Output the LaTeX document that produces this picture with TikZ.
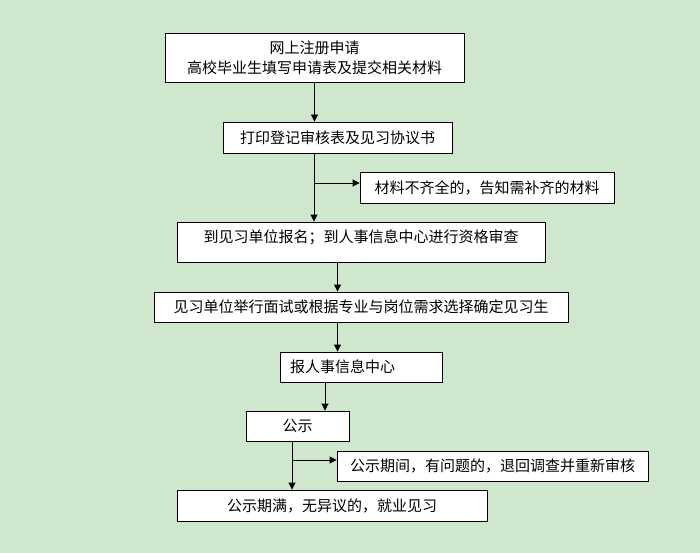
\documentclass[tikz,border=0pt]{standalone}
\usepackage{fontspec}
\setmainfont{Noto Sans CJK SC}
\usetikzlibrary{arrows.meta}
\definecolor{bgc}{RGB}{207,231,204}
\begin{document}
\begin{tikzpicture}[x=1pt,y=-1pt]
\tikzstyle{every node}+=[inner sep=0pt, font=\fontsize{15pt}{20pt}\selectfont]
\tikzstyle{box}=[draw=black, fill=white, line width=0.9pt]
\tikzstyle{arr}=[-{Triangle[length=7pt,width=7pt]}, line width=0.9pt]
\fill [bgc] (0,0) rectangle (700,553);
\useasboundingbox (0,0) rectangle (700,553);
\node [box, minimum width=299pt, minimum height=49pt, align=center] (apply) at (314.5,57.5) {网上注册申请\\高校毕业生填写申请表及提交相关材料};
\node [box, minimum width=229pt, minimum height=31pt] (print) at (337.5,137.5) {打印登记审核表及见习协议书};
\node [box, minimum width=254pt, minimum height=31pt] (lack) at (487,187.5) {材料不齐全的，告知需补齐的材料};
\node [box, minimum width=368pt, minimum height=40pt, text depth=12pt] (review) at (361,242) {到见习单位报名；到人事信息中心进行资格审查};
\node [box, minimum width=414pt, minimum height=30pt] (select) at (361,307) {见习单位举行面试或根据专业与岗位需求选择确定见习生};
\node [box, minimum height=30pt, text width=142pt, inner xsep=10pt, align=left] (report) at (361,367) {报人事信息中心};
\node [box, minimum width=103pt, minimum height=30pt] (notice) at (297.5,426) {公示};
\node [box, minimum width=311pt, minimum height=30pt] (objection) at (492.5,466) {公示期间，有问题的，退回调查并重新审核};
\node [box, minimum width=310pt, minimum height=31pt] (finish) at (332,505.5) {公示期满，无异议的，就业见习};
\coordinate (fork1) at (314,183);
\coordinate (spine3) at (325,0);
\coordinate (fork2) at (292,460);
\draw [arr] (apply.south) -- (apply.south |- print.north);
\draw [line width=0.9pt] (print.south -| fork1) -- (fork1);
\draw [arr] (fork1) -- (fork1 |- review.north);
\draw [arr] (fork1) -- (fork1 -| lack.west);
\draw [arr] (review.south -| print) -- (select.north -| print);
\draw [arr] (select.south -| print) -- (report.north -| print);
\draw [arr] (report.south -| spine3) -- (notice.north -| spine3);
\draw [line width=0.9pt] (notice.south -| fork2) -- (fork2);
\draw [arr] (fork2) -- (fork2 |- finish.north);
\draw [arr] (fork2) -- (fork2 -| objection.west);
\end{tikzpicture}
\end{document}
